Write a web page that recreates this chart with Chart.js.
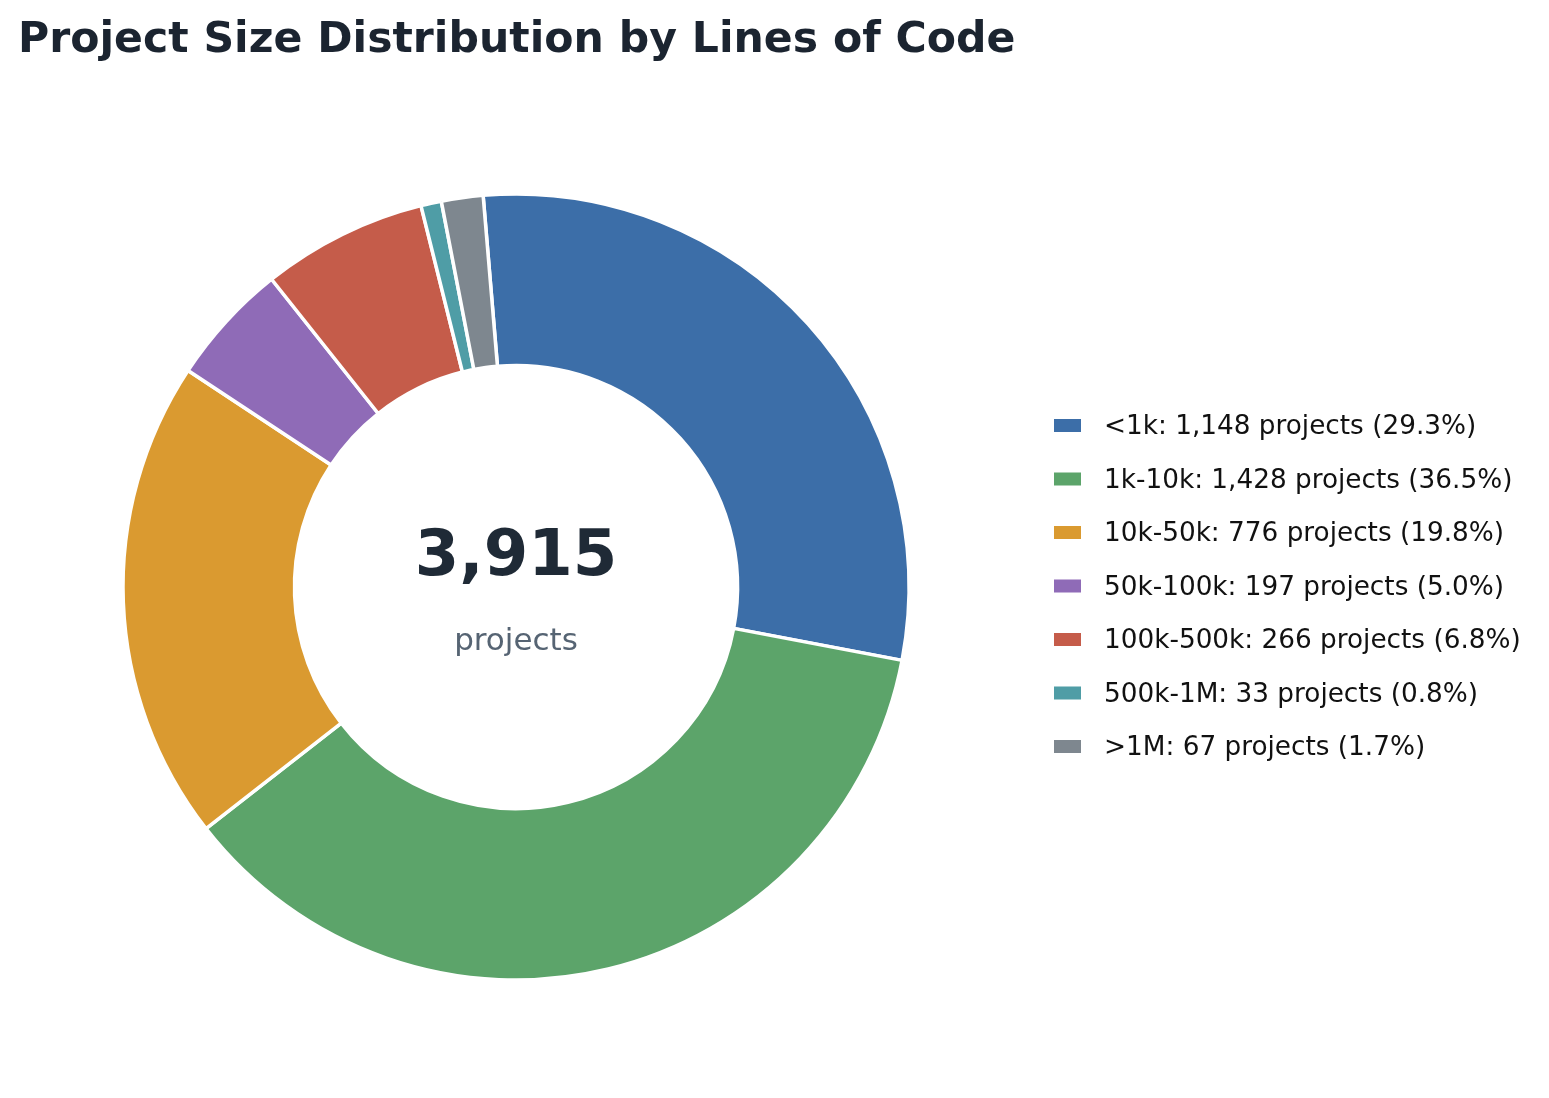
<!DOCTYPE html>
<html>
<head>
<meta charset="utf-8">
<title>Project Size Distribution by Lines of Code</title>
<script src="https://cdn.jsdelivr.net/npm/chart.js@4"></script>
<style>
  html, body { margin: 0; padding: 0; background: #ffffff; }
  #wrap { position: relative; width: 1549px; height: 1098px; }
</style>
</head>
<body>
<div id="wrap"><canvas id="sizeChart" width="1549" height="1098"></canvas></div>
<script>
// data
const categories = ['<1k', '1k-10k', '10k-50k', '50k-100k', '100k-500k', '500k-1M', '>1M'];
const projectCounts = [1148, 1428, 776, 197, 266, 33, 67];
const sliceColors = ['#3c6ea8', '#5ca46a', '#da9a30', '#8f6bb7', '#c55c4a', '#4f9da6', '#7e878f'];

const totalProjects = projectCounts.reduce((a, b) => a + b, 0);
const fmt = n => n.toLocaleString('en-US');

let legendLabels = categories.map(function (c, i) {
  let pct = (projectCounts[i] / totalProjects * 100).toFixed(1);
  return c + ': ' + fmt(projectCounts[i]) + ' projects (' + pct + '%)';
});

// title, center label and legend drawn on the same canvas
const textPlugin = {
  id: 'textPlugin',
  afterDraw: function (chart) {
    const ctx = chart.ctx;
    const font = '"DejaVu Sans", sans-serif';
    ctx.save();
    ctx.textBaseline = 'alphabetic';

    ctx.fillStyle = '#1b2430';
    ctx.textAlign = 'left';
    ctx.font = 'bold 42.6px ' + font;
    ctx.fillText('Project Size Distribution by Lines of Code', 18, 52);

    const cx = (chart.chartArea.left + chart.chartArea.right) / 2;
    ctx.textAlign = 'center';
    ctx.fillStyle = '#1f2a36';
    ctx.font = 'bold 64px ' + font;
    ctx.fillText(fmt(totalProjects), cx, 574.5);
    ctx.fillStyle = '#566473';
    ctx.font = '31px ' + font;
    ctx.fillText('projects', cx, 650);

    ctx.textAlign = 'left';
    ctx.font = '26.3px ' + font;
    legendLabels.forEach(function (label, i) {
      let y = 419 + i * 53.5;
      ctx.fillStyle = sliceColors[i];
      ctx.fillRect(1054, y, 27, 13);
      ctx.fillStyle = '#111111';
      ctx.fillText(label, 1104, y + 15.2);
    });
    ctx.restore();
  }
};

let ctx = document.getElementById('sizeChart').getContext('2d');
window.sizeChart = new Chart(ctx, {
  type: 'doughnut',
  data: {
    labels: categories,
    datasets: [{
      data: projectCounts,
      backgroundColor: sliceColors,
      borderColor: '#ffffff',
      borderWidth: 3.5
    }]
  },
  options: {
    responsive: false,
    animation: false,
    rotation: -4.8,
    radius: 393,
    cutout: 224.5,
    layout: { padding: { left: 116, top: 187, right: 633, bottom: 111 } },
    plugins: {
      legend: { display: false },
      tooltip: { enabled: false }
    }
  },
  plugins: [textPlugin]
});
</script>
</body>
</html>
